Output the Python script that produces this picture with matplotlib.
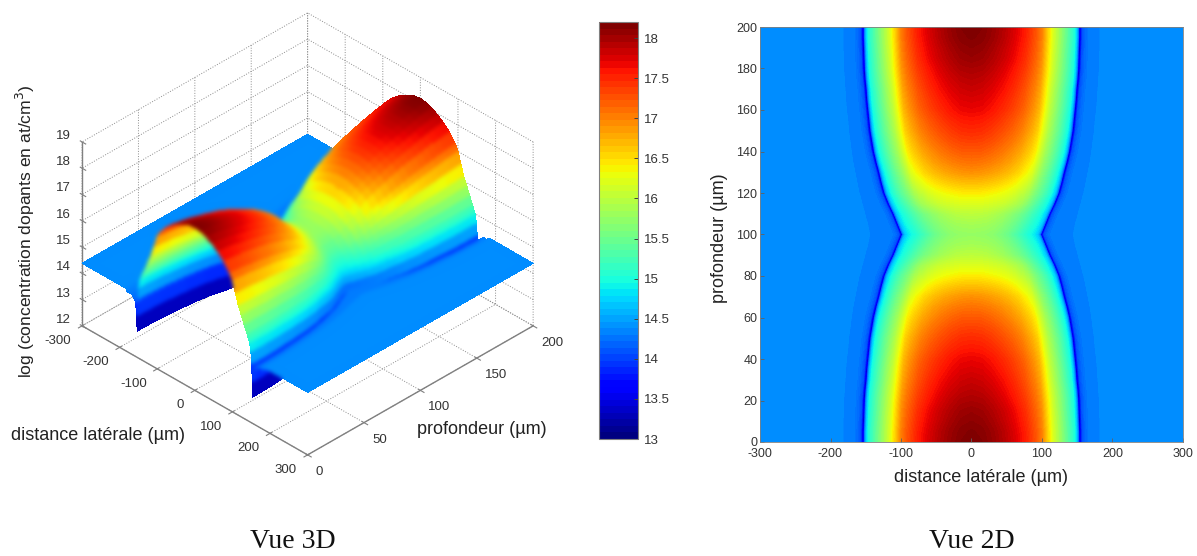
# vue 3D et vue 2D du profil de dopants

import numpy as np
import matplotlib
matplotlib.use("Agg")
import matplotlib.pyplot as plt
from matplotlib.colors import Normalize
from matplotlib.cm import ScalarMappable

plt.rcParams['font.family'] = ['Liberation Sans', 'DejaVu Sans']
plt.rcParams['axes.unicode_minus'] = False
plt.rcParams['grid.color'] = '#8c8c8c'
plt.rcParams['grid.linestyle'] = ':'
plt.rcParams['grid.linewidth'] = 0.7

# half of the device: depth 0-100 um, the other half mirrors it
depth = [0, 5, 10, 15, 20, 25, 30, 35, 40, 45, 50, 55, 60, 65, 70, 75, 80, 85, 90, 95, 100]
# lateral position of the junction and of the outer contour at each depth
junction = [153.5, 153.5, 153, 152.5, 152, 151, 149.5, 148.5, 147, 145.5, 144,
            141.5, 139, 135.5, 131.5, 128, 124, 118, 111, 105, 99]
outer_edge = [182, 182, 182, 181, 181, 180, 179, 178, 177, 175, 174,
              172, 170, 168, 165, 162, 159, 155, 151, 147, 144]
# columns inside the junction, as a fraction of the junction position
inner_frac = [0, .1, .2, .3, .4, .5, .6, .65, .7, .75, .8, .85, .9, .93, .95, .97, .985, .995]
inner_log = [
    [18.20, 18.17, 18.08, 17.95, 17.78, 17.57, 17.25, 17.03, 16.60, 16.20, 15.90, 15.60, 15.30, 15.12, 15.00, 14.70, 14.25, 13.60],
    [18.18, 18.15, 18.06, 17.93, 17.76, 17.55, 17.23, 17.01, 16.59, 16.19, 15.89, 15.59, 15.30, 15.12, 15.00, 14.70, 14.25, 13.60],
    [18.13, 18.10, 18.01, 17.88, 17.72, 17.51, 17.20, 16.98, 16.56, 16.17, 15.88, 15.58, 15.29, 15.11, 14.99, 14.69, 14.24, 13.60],
    [18.08, 18.05, 17.96, 17.84, 17.68, 17.47, 17.16, 16.95, 16.54, 16.15, 15.86, 15.57, 15.28, 15.10, 14.98, 14.69, 14.24, 13.60],
    [18.00, 17.98, 17.89, 17.77, 17.61, 17.41, 17.11, 16.90, 16.50, 16.13, 15.84, 15.56, 15.27, 15.09, 14.97, 14.68, 14.23, 13.59],
    [17.93, 17.90, 17.82, 17.70, 17.55, 17.35, 17.06, 16.85, 16.46, 16.10, 15.82, 15.54, 15.26, 15.08, 14.96, 14.67, 14.23, 13.59],
    [17.86, 17.83, 17.75, 17.64, 17.49, 17.29, 17.01, 16.81, 16.43, 16.07, 15.80, 15.52, 15.24, 15.07, 14.95, 14.66, 14.22, 13.59],
    [17.78, 17.76, 17.68, 17.57, 17.42, 17.24, 16.95, 16.76, 16.39, 16.04, 15.78, 15.51, 15.23, 15.06, 14.94, 14.65, 14.22, 13.58],
    [17.71, 17.69, 17.61, 17.50, 17.36, 17.18, 16.90, 16.71, 16.35, 16.01, 15.76, 15.49, 15.22, 15.05, 14.92, 14.64, 14.21, 13.58],
    [17.60, 17.58, 17.51, 17.40, 17.27, 17.09, 16.82, 16.64, 16.29, 15.97, 15.72, 15.47, 15.20, 15.03, 14.91, 14.63, 14.20, 13.58],
    [17.50, 17.48, 17.41, 17.31, 17.18, 17.01, 16.75, 16.57, 16.24, 15.93, 15.69, 15.45, 15.19, 15.01, 14.89, 14.61, 14.19, 13.57],
    [17.38, 17.36, 17.30, 17.20, 17.08, 16.91, 16.66, 16.49, 16.18, 15.89, 15.66, 15.42, 15.17, 15.00, 14.87, 14.60, 14.18, 13.57],
    [17.24, 17.23, 17.17, 17.08, 16.96, 16.80, 16.57, 16.41, 16.11, 15.84, 15.62, 15.39, 15.14, 14.98, 14.85, 14.58, 14.17, 13.56],
    [17.10, 17.08, 17.03, 16.95, 16.84, 16.68, 16.46, 16.31, 16.04, 15.78, 15.58, 15.36, 15.12, 14.95, 14.83, 14.57, 14.16, 13.56],
    [16.93, 16.91, 16.86, 16.79, 16.69, 16.55, 16.34, 16.20, 15.95, 15.72, 15.53, 15.32, 15.09, 14.93, 14.80, 14.54, 14.15, 13.55],
    [16.68, 16.67, 16.63, 16.57, 16.48, 16.35, 16.17, 16.04, 15.83, 15.62, 15.45, 15.27, 15.05, 14.89, 14.76, 14.51, 14.13, 13.54],
    [16.42, 16.42, 16.38, 16.33, 16.26, 16.14, 15.98, 15.87, 15.69, 15.53, 15.38, 15.21, 15.01, 14.85, 14.72, 14.48, 14.11, 13.53],
    [16.20, 16.20, 16.17, 16.13, 16.07, 15.96, 15.82, 15.70, 15.55, 15.40, 15.26, 15.11, 14.95, 14.81, 14.69, 14.46, 14.09, 13.52],
    [16.00, 15.99, 15.96, 15.90, 15.82, 15.70, 15.56, 15.47, 15.37, 15.26, 15.14, 15.03, 14.90, 14.77, 14.66, 14.43, 14.07, 13.51],
    [15.85, 15.84, 15.82, 15.77, 15.70, 15.59, 15.45, 15.36, 15.27, 15.17, 15.07, 14.98, 14.87, 14.74, 14.64, 14.41, 14.06, 13.50],
    [15.75, 15.74, 15.72, 15.68, 15.60, 15.50, 15.35, 15.27, 15.18, 15.09, 15.00, 14.92, 14.82, 14.72, 14.62, 14.40, 14.05, 13.50],
]
# just outside the junction, distance in um from it, same at every depth
outer_offset = [0, 1.5, 4, 8, 14]
outer_log = [13.0, 13.6, 14.05, 14.18, 14.28]
plateau_log = 14.28
background_log = 14.38

vmin, vmax = 13, 18.2
cbar_ticks = [13, 13.5, 14, 14.5, 15, 15.5, 16, 16.5, 17, 17.5, 18]
lateral_ticks = [-300, -200, -100, 0, 100, 200, 300]
depth_ticks_3d = [0, 50, 100, 150, 200]
depth_ticks_2d = list(range(0, 201, 20))
log_ticks = [12, 13, 14, 15, 16, 17, 18, 19]

# build the grid
rows_x = []
rows_z = []
for i in range(len(depth)):
    half_x = np.concatenate([np.array(inner_frac) * junction[i],
                             junction[i] + np.array(outer_offset),
                             [outer_edge[i], outer_edge[i] + 1, 300]])
    half_z = np.concatenate([inner_log[i], outer_log,
                             [plateau_log, background_log, background_log]])
    rows_x.append(np.concatenate([-half_x[:0:-1], half_x]))
    rows_z.append(np.concatenate([half_z[:0:-1], half_z]))
rows_x = np.array(rows_x)
rows_z = np.array(rows_z)

X = np.vstack([rows_x, rows_x[-2::-1]])
Z = np.vstack([rows_z, rows_z[-2::-1]])
d = np.concatenate([depth, 200 - np.array(depth)[-2::-1]])
Y = np.tile(d[:, None], (1, X.shape[1]))

W, H = 1197, 556
norm = Normalize(vmin, vmax)
grey = '#808080'
tick_col = '#333333'
label_col = '#222222'


def box(x0, y0, x1, y1):
    return [x0 / W, 1 - y1 / H, (x1 - x0) / W, (y1 - y0) / H]


# soften the facet colours as agg draws them, the outline stays sharp
def soften(img, dpi):
    pad = 6
    a = np.pad(img, ((pad, pad), (pad, pad), (0, 0)))
    alpha = a[..., 3].copy()
    a[..., :3] *= a[..., 3:]
    for _ in range(2):
        for axis in (0, 1):
            a = (6 * a + 4 * np.roll(a, 1, axis) + 4 * np.roll(a, -1, axis)
                 + np.roll(a, 2, axis) + np.roll(a, -2, axis)) / 16
    a[..., :3] /= np.maximum(a[..., 3:], 1e-4)
    a[..., 3] = alpha
    return np.clip(a, 0, 1), -pad, -pad


fig = plt.figure(figsize=(W / 100, H / 100), dpi=100)

# 3D view
ax3 = fig.add_axes(box(56.5, -4, 545.5, 485), projection='3d', proj_type='ortho')
ax3.patch.set_alpha(0)
ax3.view_init(elev=34.9, azim=-45)
ax3.set_box_aspect((1, 1, 0.703))
surf = ax3.plot_surface(X, Y, Z, cmap='jet', norm=norm, rstride=1, cstride=1,
                        linewidth=0, antialiased=False, shade=False)
surf.set_agg_filter(soften)
ax3.set_xlim(-300, 300, view_margin=0)
ax3.set_ylim(0, 200, view_margin=0)
ax3.set_zlim(12, 19, view_margin=0)
ax3.set_xticks(lateral_ticks)
ax3.set_yticks(depth_ticks_3d)
ax3.set_zticks(log_ticks)
ax3.set_xticklabels([str(t) for t in lateral_ticks], ha='right', va='center')
ax3.set_yticklabels([str(t) for t in depth_ticks_3d], ha='left', va='top')
ax3.set_zticklabels([str(t) for t in log_ticks], va='bottom')
ax3.tick_params(labelsize=9.5, color=grey, labelcolor=tick_col)
ax3.tick_params(axis='x', pad=0.6)
ax3.tick_params(axis='y', pad=-1.5)
ax3.tick_params(axis='z', pad=-0.6)
ax3.zaxis._axinfo['juggled'] = (1, 2, 0)
for axis in (ax3.xaxis, ax3.yaxis, ax3.zaxis):
    axis.set_pane_color((1, 1, 1, 0))
    axis.pane.set_edgecolor('#8c8c8c')
    axis.pane.set_linestyle(':')
    axis.pane.set_linewidth(0.7)
    axis.line.set_color(grey)
    axis.line.set_linewidth(1.0)

# colorbar
cax = fig.add_axes(box(599, 22, 638, 439))
cb = fig.colorbar(ScalarMappable(norm=norm, cmap=plt.get_cmap('jet', 64)), cax=cax,
                  ticks=cbar_ticks, format='%g')
cax.tick_params(direction='in', length=3, width=0.7, left=True, right=True,
                labelsize=9.5, labelcolor=tick_col, color='#404040', pad=4)
cb.outline.set_edgecolor(grey)

# 2D view
ax2 = fig.add_axes(box(760, 27, 1183, 442))
levels = np.linspace(vmin, vmax + 0.01, 129)
ax2.contourf(X, Y, Z, levels=levels, cmap='jet', norm=norm, antialiased=False)
ax2.set_xlim(-300, 300)
ax2.set_ylim(0, 200)
ax2.set_xticks(lateral_ticks)
ax2.set_yticks(depth_ticks_2d)
ax2.tick_params(direction='in', length=3, width=0.6, labelsize=9,
                labelcolor=tick_col, color='#606060')
ax2.tick_params(axis='x', pad=4)
ax2.tick_params(axis='y', pad=2)
for side in ax2.spines.values():
    side.set_edgecolor(grey)
    side.set_linewidth(0.6)

# labels
fig.text(25.5 / W, 1 - 231 / H, 'log (concentration dopants en at/cm$^3$)', rotation=90,
         ha='center', va='center', fontsize=12.6, color=label_col)
fig.text(98 / W, 1 - 435.5 / H, 'distance latérale (µm)', ha='center', va='center',
         fontsize=13, color=label_col)
fig.text(482 / W, 1 - 430 / H, 'profondeur (µm)', ha='center', va='center',
         fontsize=13, color=label_col)
fig.text(981.5 / W, 1 - 477 / H, 'distance latérale (µm)', ha='center', va='center',
         fontsize=13, color=label_col)
fig.text(719 / W, 1 - 238 / H, 'profondeur (µm)', rotation=90, ha='center', va='center',
         fontsize=13, color=label_col)
fig.text(293 / W, 1 - 541 / H, 'Vue 3D', ha='center', va='center', fontsize=20,
         family=['Liberation Serif'], color='#111111')
fig.text(972 / W, 1 - 541 / H, 'Vue 2D', ha='center', va='center', fontsize=20,
         family=['Liberation Serif'], color='#111111')

plt.savefig('out.png', dpi=100)
